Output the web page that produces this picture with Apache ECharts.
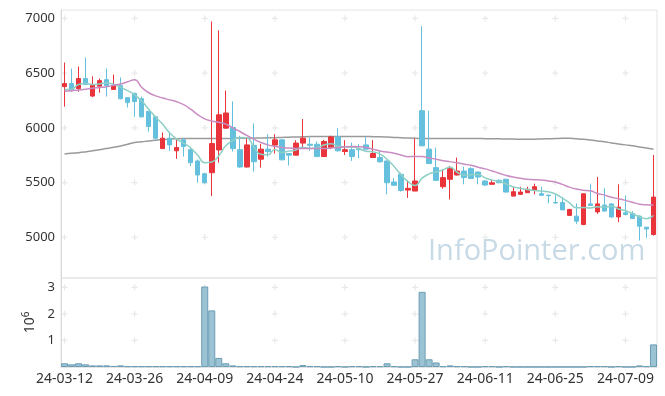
<!DOCTYPE html>
<html>
<head>
<meta charset="utf-8">
<script src="https://cdn.jsdelivr.net/npm/echarts/dist/echarts.min.js"></script>
<style>html,body{margin:0;padding:0;background:#fff;}#c{width:665px;height:396px;}</style>
</head>
<body>
<div id="c"></div>
<script>
var dates = ['24-03-12','24-03-13','24-03-14','24-03-15','24-03-18','24-03-19','24-03-20','24-03-21','24-03-22','24-03-25',
'24-03-26','24-03-27','24-03-28','24-03-29','24-04-01','24-04-02','24-04-03','24-04-04','24-04-05','24-04-08',
'24-04-09','24-04-11','24-04-12','24-04-15','24-04-16','24-04-17','24-04-18','24-04-19','24-04-22','24-04-23',
'24-04-24','24-04-25','24-04-26','24-04-29','24-04-30','24-05-02','24-05-03','24-05-07','24-05-08','24-05-09',
'24-05-10','24-05-13','24-05-14','24-05-16','24-05-17','24-05-20','24-05-21','24-05-22','24-05-23','24-05-24',
'24-05-27','24-05-28','24-05-29','24-05-30','24-05-31','24-06-03','24-06-04','24-06-05','24-06-07','24-06-10',
'24-06-11','24-06-12','24-06-13','24-06-14','24-06-17','24-06-18','24-06-19','24-06-20','24-06-21','24-06-24',
'24-06-25','24-06-26','24-06-27','24-06-28','24-07-01','24-07-02','24-07-03','24-07-04','24-07-05','24-07-08',
'24-07-09','24-07-10','24-07-11','24-07-12','24-07-15'];

var openP = [6376,6404,6358,6450,6290,6380,6440,6350,6385,6275,
6315,6266,6150,6100,5810,5905,5790,5890,5800,5697,
5580,5590,5798,5997,6003,5800,5642,5840,5713,5805,
5842,5890,5765,5750,5860,5850,5850,5737,5820,5917,
5783,5800,5805,5844,5728,5728,5697,5505,5575,5431,
5422,6156,5805,5636,5462,5530,5569,5605,5627,5596,
5514,5484,5520,5530,5376,5392,5407,5429,5398,5385,
5318,5318,5200,5193,5117,5305,5232,5294,5305,5186,
5223,5217,5193,5092,5025];
var closeP = [6404,6340,6450,6395,6390,6431,6385,6385,6266,6230,
6240,6100,6012,5905,5905,5844,5820,5830,5682,5569,
5498,5856,6119,6135,5810,5642,5844,5690,5805,5783,
5890,5707,5750,5860,5905,5840,5737,5875,5917,5790,
5800,5737,5800,5805,5765,5690,5498,5475,5428,5447,
5514,5835,5673,5520,5545,5627,5605,5545,5538,5550,
5477,5498,5498,5413,5416,5413,5438,5462,5383,5380,
5313,5250,5254,5147,5397,5290,5305,5239,5186,5275,
5208,5172,5101,5076,5367];
var lowP = [6193,6330,6330,6390,6280,6320,6285,6345,6260,6185,
6100,6095,5966,5890,5810,5790,5716,5737,5651,5498,
5490,5376,5682,5990,5783,5636,5636,5600,5636,5737,
5765,5705,5655,5750,5820,5790,5735,5735,5805,5783,
5752,5697,5722,5800,5725,5680,5392,5470,5416,5360,
5422,5835,5670,5520,5443,5346,5565,5484,5535,5484,
5470,5480,5495,5410,5376,5390,5404,5392,5380,5310,
5305,5250,5200,5122,5110,5290,5214,5239,5177,5138,
5200,5170,4970,4994,5015];
var highP = [6596,6541,6560,6642,6470,6450,6541,6486,6460,6280,
6320,6285,6155,6110,5957,5966,5900,5908,5826,5710,
5590,6972,6890,6340,6241,5927,5911,6040,5853,5942,
5942,5895,5765,5887,6080,5911,5875,5890,5927,5997,
5887,5865,5850,5917,5887,5790,5700,5541,5590,5523,
5902,6927,6156,5820,5615,5651,5728,5645,5640,5600,
5520,5523,5530,5535,5462,5462,5462,5490,5462,5390,
5385,5367,5260,5310,5400,5490,5550,5447,5310,5484,
5382,5239,5200,5095,5752];

var ma5 = [6349,6352,6395,6405,6396,6401,6410,6397,6371,6339,
6301,6244,6170,6097,6032,5953,5897,5861,5816,5749,
5680,5687,5745,5835,5884,5912,5910,5824,5758,5753,
5802,5775,5787,5798,5822,5812,5818,5843,5855,5832,
5824,5824,5809,5786,5781,5759,5712,5647,5571,5508,
5472,5540,5579,5598,5617,5640,5594,5568,5572,5573,
5543,5522,5512,5487,5460,5448,5436,5428,5422,5415,
5395,5358,5316,5269,5272,5268,5279,5276,5283,5259,
5243,5216,5188,5170,5199];
var ma20 = [6333,6338,6345,6352,6362,6368,6376,6388,6400,6420,
6440,6370,6320,6292,6272,6255,6238,6211,6170,6120,
6082,6062,6050,6034,6000,5966,5930,5896,5866,5844,
5830,5820,5815,5812,5810,5810,5810,5810,5815,5820,
5826,5829,5827,5820,5805,5789,5778,5768,5752,5736,
5738,5737,5725,5712,5700,5691,5680,5668,5657,5640,
5625,5605,5585,5565,5550,5540,5530,5526,5523,5515,
5505,5483,5458,5440,5430,5424,5400,5385,5365,5352,
5337,5320,5302,5296,5294];
var ma120 = [5761,5767,5772,5780,5790,5800,5810,5822,5834,5850,
5865,5872,5880,5887,5892,5897,5900,5902,5903,5903,
5903,5903,5903,5903,5903,5904,5905,5906,5907,5908,
5910,5912,5914,5916,5918,5920,5920,5921,5921,5921,
5921,5920,5920,5920,5919,5918,5915,5912,5909,5906,
5904,5903,5902,5902,5902,5902,5902,5902,5902,5902,
5901,5900,5899,5898,5897,5896,5896,5896,5898,5900,
5902,5904,5904,5900,5895,5888,5880,5872,5862,5853,
5844,5835,5825,5815,5805];

// volume in millions of shares
var volume = [0.14,0.10,0.14,0.10,0.06,0.06,0.06,0.04,0.06,0.03,
0.03,0.03,0.03,0.03,0.03,0.03,0.03,0.03,0.03,0.03,
3.03,2.13,0.34,0.14,0.06,0.03,0.03,0.03,0.03,0.03,
0.03,0.03,0.03,0.004,0.07,0.03,0.03,0.004,0.004,0.03,
0.004,0.03,0.03,0.004,0.03,0.03,0.14,0.03,0.004,0.004,
0.29,2.83,0.29,0.17,0.03,0.06,0.03,0.03,0.004,0.004,
0.03,0.03,0.004,0.03,0.004,0.004,0.004,0.004,0.004,0.004,
0.004,0.004,0.004,0.004,0.004,0.03,0.03,0.03,0.004,0.03,
0.004,0.004,0.06,0.03,0.85];

var priceTicks = [5000,5500,6000,6500,7000];
var volTicks = [1,2,3];

var candles = dates.map(function(d,i){return [openP[i],closeP[i],lowP[i],highP[i]];});
var tickIdx = [];
dates.forEach(function(d,i){ if(i%10===0) tickIdx.push(i); });
var crossMain = [], crossVol = [];
tickIdx.forEach(function(i){
  priceTicks.forEach(function(v){crossMain.push([i,v]);});
  volTicks.forEach(function(v){crossVol.push([i,v]);});
});

var FONT = '"Noto Sans", sans-serif';
var plus = 'path://M2,0H3V2H5V3H3V5H2V3H0V2H2Z';
var plain = function(v){return String(v);};

var chart = echarts.init(document.getElementById('c'), null, {renderer:'canvas'});
chart.setOption({
  animation:false,
  backgroundColor:'#fff',
  textStyle:{fontFamily:FONT},
  grid:[
    {left:61,right:8,top:10,height:268,show:true,borderColor:'#e4e4e4',borderWidth:1},
    {left:61,right:8,top:278,height:89,show:true,borderColor:'#e4e4e4',borderWidth:1}
  ],
  xAxis:[
    {type:'category',gridIndex:0,data:dates,boundaryGap:true,
     axisLine:{show:false},axisTick:{show:false},axisLabel:{show:false},splitLine:{show:false}},
    {type:'category',gridIndex:1,data:dates,boundaryGap:true,
     axisLine:{show:true,lineStyle:{color:'#e4e4e4'}},axisTick:{show:false},
     axisLabel:{interval:9,color:'#333',fontSize:14,fontFamily:FONT,margin:5},splitLine:{show:false}}
  ],
  yAxis:[
    {type:'value',gridIndex:0,min:4628,max:7076,
     axisLine:{show:true,lineStyle:{color:'#d8d8d8'}},axisTick:{show:false},splitLine:{show:false},
     axisLabel:{customValues:priceTicks,formatter:plain,color:'#333',fontSize:13,fontFamily:FONT,margin:6}},
    {type:'value',gridIndex:1,min:0,max:3.35,
     axisLine:{show:true,lineStyle:{color:'#d8d8d8'}},axisTick:{show:false},splitLine:{show:false},
     axisLabel:{customValues:volTicks,formatter:plain,color:'#333',fontSize:13,fontFamily:FONT,margin:6},
     name:'{b|10}{s|6}',nameLocation:'middle',nameRotate:90,nameGap:16,
     nameTextStyle:{rich:{b:{fontSize:14,color:'#333',fontFamily:FONT},s:{fontSize:10,color:'#333',fontFamily:FONT,padding:[0,0,8,0]}}}}
  ],
  graphic:[{type:'text',left:428,top:237,z:-1,silent:true,
    style:{text:'InfoPointer.com',font:'29px "Open Sans"',fill:'#c8dae6'}}],
  series:[
    {type:'scatter',xAxisIndex:0,yAxisIndex:0,data:crossMain,symbol:plus,symbolSize:6,silent:true,
     itemStyle:{color:'#e2e2e2'},z:0},
    {type:'scatter',xAxisIndex:1,yAxisIndex:1,data:crossVol,symbol:plus,symbolSize:6,silent:true,
     itemStyle:{color:'#e2e2e2'},z:0},
    {type:'line',name:'MA120',xAxisIndex:0,yAxisIndex:0,data:ma120,smooth:true,showSymbol:false,
     lineStyle:{color:'#9a9a9a',width:1.5},z:2},
    {type:'candlestick',name:'price',xAxisIndex:0,yAxisIndex:0,data:candles,barWidth:5,
     itemStyle:{color:'#e8343a',color0:'#64c0dc',borderColor:'#e8343a',borderColor0:'#64c0dc',borderWidth:1},z:3},
    {type:'line',name:'MA5',xAxisIndex:0,yAxisIndex:0,data:ma5,smooth:true,showSymbol:false,
     lineStyle:{color:'#8ecfc6',width:1.5},z:4},
    {type:'line',name:'MA20',xAxisIndex:0,yAxisIndex:0,data:ma20,smooth:true,showSymbol:false,
     lineStyle:{color:'#c98dc3',width:1.5},z:4},
    {type:'bar',name:'volume',xAxisIndex:1,yAxisIndex:1,data:volume,barCategoryGap:'0%',
     itemStyle:{color:'#9cc3d3',borderColor:'#6b9db5',borderWidth:1},z:3}
  ]
});
</script>
</body>
</html>
